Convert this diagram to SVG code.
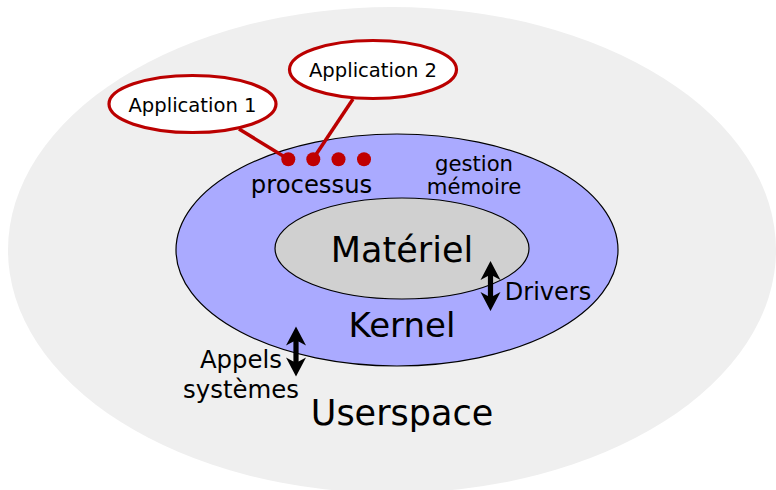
<svg xmlns="http://www.w3.org/2000/svg" xmlns:xlink="http://www.w3.org/1999/xlink" width="776" height="490" viewBox="0 0 776 490">
  <style>
    text { font-family: "DejaVu Sans", "Liberation Sans", sans-serif; fill: #000; text-anchor: middle; }
    .app { fill: #fff; stroke: #bb0000; stroke-width: 3.2; }
    .link { stroke: #bb0000; stroke-width: 3.5; fill: none; }
    .dot { fill: #c00000; }
  </style>
  <defs>
    <!-- double-headed vertical arrow, 50px long, centred on x=0 -->
    <path id="dbl" d="M0,0 L10,19 L2.6,15 L2.6,35 L10,31 L0,50 L-10,31 L-2.6,35 L-2.6,15 L-10,19 Z" fill="#000"/>
  </defs>

  <g id="userspace">
    <ellipse cx="392" cy="250" rx="384" ry="243" fill="#efefef"/>
    <text x="402" y="425" font-size="35">Userspace</text>
  </g>

  <g id="kernel">
    <ellipse cx="397" cy="250" rx="221" ry="116" fill="#aaaaff" stroke="#000" stroke-width="1.2"/>
    <text x="402" y="337" font-size="34">Kernel</text>
    <text x="311.5" y="193" font-size="24.3">processus</text>
    <text x="474" y="170.5" font-size="21.2">gestion</text>
    <text x="474" y="193.5" font-size="21.2">mémoire</text>
  </g>

  <g id="materiel">
    <ellipse cx="402" cy="248.5" rx="127" ry="50.5" fill="#d0d0d0" stroke="#000" stroke-width="1.2"/>
    <text x="402" y="262" font-size="35">Matériel</text>
  </g>

  <g id="connectors">
    <line class="link" x1="239" y1="129" x2="288" y2="159"/>
    <line class="link" x1="353" y1="99" x2="313" y2="159"/>
    <use xlink:href="#dbl" transform="translate(490.5,261)"/>
    <use xlink:href="#dbl" transform="translate(296,326.5)"/>
  </g>

  <g id="processes">
    <circle class="dot" cx="288.3" cy="159.3" r="7"/>
    <circle class="dot" cx="313.3" cy="159.3" r="7"/>
    <circle class="dot" cx="338.5" cy="159.3" r="7"/>
    <circle class="dot" cx="364" cy="159.3" r="7"/>
  </g>

  <g id="app1">
    <ellipse class="app" cx="192.5" cy="104" rx="83.5" ry="28.5"/>
    <text x="192.5" y="111.5" font-size="19.6">Application 1</text>
  </g>

  <g id="app2">
    <ellipse class="app" cx="373" cy="69.5" rx="83.5" ry="29"/>
    <text x="373" y="76.7" font-size="19.6">Application 2</text>
  </g>

  <g id="labels">
    <text x="548" y="300" font-size="24">Drivers</text>
    <text x="241" y="368.3" font-size="24.4">Appels</text>
    <text x="241" y="398.3" font-size="24.4">systèmes</text>
  </g>
</svg>
